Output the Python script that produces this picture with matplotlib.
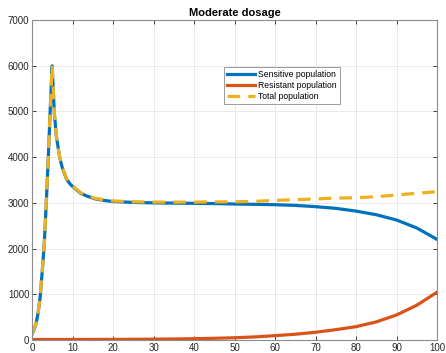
import matplotlib.pyplot as plt

# time points and populations
t = [0, 0.5, 1, 1.5, 2, 2.5, 3, 3.5, 4, 4.5, 4.95, 5.2, 5.5, 6, 6.8, 7.5, 8.5,
     9.5, 10.5, 12, 13.5, 15.5, 18, 20, 25, 30, 35, 40, 45, 50, 55, 60, 65, 70,
     75, 80, 85, 90, 95, 100]
sensitive = [130, 230, 370, 600, 950, 1500, 2100, 3000, 4000, 5100, 6000, 5500,
             4950, 4450, 4000, 3750, 3520, 3400, 3320, 3210, 3150, 3090, 3050,
             3030, 3010, 3000, 2995, 2990, 2985, 2975, 2968, 2960, 2945, 2917,
             2880, 2820, 2740, 2625, 2450, 2200]
resistant = [10, 10, 10, 10, 10, 10, 10, 10, 10, 10, 10, 10, 10, 10, 10, 10, 10,
             10, 10, 11, 11, 11, 12, 12, 14, 17, 21, 27, 36, 48, 66, 94, 125, 168,
             225, 291, 395, 547, 760, 1045]
total = [s + r for s, r in zip(sensitive, resistant)]

plt.rcParams['font.family'] = ['Liberation Sans', 'DejaVu Sans']

fig = plt.figure(figsize=(4.46, 3.53), dpi=100)
ax = fig.add_axes([0.072, 0.037, 0.908, 0.906])

ax.plot(t, sensitive, color='#0072BD', lw=2.3, label='Sensitive population')
ax.plot(t, resistant, color='#D95319', lw=2.3, label='Resistant population')
ax.plot(t, total, color='#EDB120', lw=2.3, ls=(0, (4, 2.5)), label='Total population')

ax.set_xlim(0, 100)
ax.set_ylim(0, 7000)
ax.set_xticks(range(0, 101, 10))
ax.set_yticks(range(0, 7001, 1000))
ax.grid(True, color='#e6e6e6', lw=0.6)
ax.set_axisbelow(True)
ax.tick_params(direction='in', labelsize=7, colors='#262626', length=3,
               top=True, right=True, width=0.6, pad=2)
for sp in ax.spines.values():
    sp.set_color('#8c8c8c')
    sp.set_linewidth(0.8)
ax.set_title('Moderate dosage', fontsize=8, fontweight='bold', pad=3)

leg = ax.legend(loc='upper left', bbox_to_anchor=(0.474, 0.853), fontsize=6.2,
                fancybox=False, framealpha=1, edgecolor='#8c8c8c',
                handlelength=3.3, borderpad=0.35, labelspacing=0.2,
                handletextpad=0.3, borderaxespad=0)
leg.get_frame().set_linewidth(0.6)

fig.savefig('out.png', dpi=100)
